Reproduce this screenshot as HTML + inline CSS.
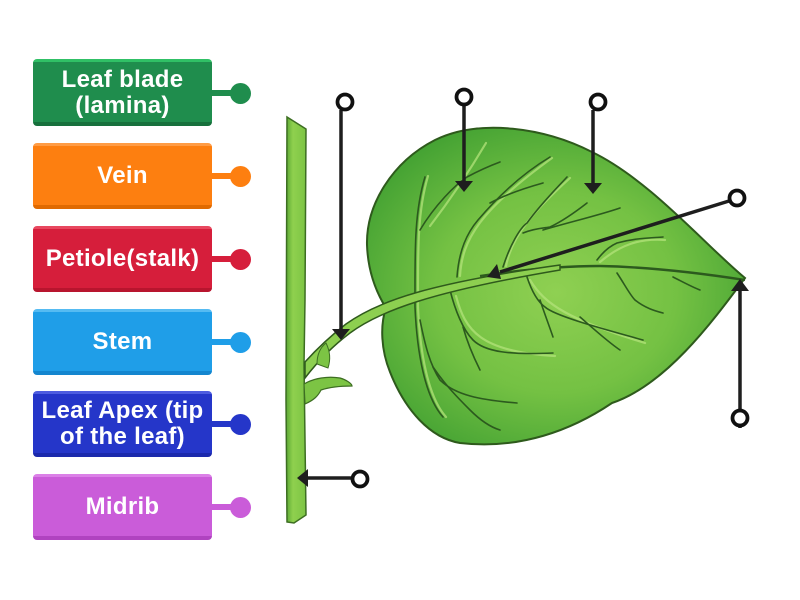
<!DOCTYPE html>
<html><head><meta charset="utf-8">
<style>
html,body{margin:0;padding:0;background:#fff;}
body{width:800px;height:600px;position:relative;overflow:hidden;font-family:"Liberation Sans",sans-serif;}
.b{position:absolute;left:33px;width:179px;border-radius:4px;color:#fff;font-weight:bold;font-size:24px;letter-spacing:0.3px;line-height:26px;display:flex;align-items:center;justify-content:center;text-align:center;box-sizing:border-box;padding-top:0px;white-space:nowrap;}
.c{position:absolute;left:211px;width:22px;height:6px;}
.d{position:absolute;left:230px;width:21px;height:21px;border-radius:50%;}
</style></head><body>
<div class="b" style="top:59px;height:67px;background:linear-gradient(#30c066 0,#30c066 3px,#1f8d4d 3px,#1f8d4d 63px,#17703c 63px);">Leaf blade<br>(lamina)</div>
<div class="c" style="top:90px;background:#1f8d4d"></div><div class="d" style="top:83px;background:#1f8d4d"></div>

<div class="b" style="top:143px;height:66px;background:linear-gradient(#ff9c45 0,#ff9c45 3px,#fd7f10 3px,#fd7f10 62px,#e06a00 62px);">Vein</div>
<div class="c" style="top:173px;background:#fd7f10"></div><div class="d" style="top:166px;background:#fd7f10"></div>

<div class="b" style="top:226px;height:66px;background:linear-gradient(#e8485f 0,#e8485f 3px,#d61e3b 3px,#d61e3b 62px,#b8152e 62px);">Petiole(stalk)</div>
<div class="c" style="top:256px;background:#d61e3b"></div><div class="d" style="top:249px;background:#d61e3b"></div>

<div class="b" style="top:309px;height:66px;background:linear-gradient(#55bbf2 0,#55bbf2 3px,#1f9ee8 3px,#1f9ee8 62px,#1486cf 62px);">Stem</div>
<div class="c" style="top:339px;background:#1f9ee8"></div><div class="d" style="top:332px;background:#1f9ee8"></div>

<div class="b" style="top:391px;height:66px;background:linear-gradient(#4d5ce0 0,#4d5ce0 3px,#2536c9 3px,#2536c9 62px,#1b29ac 62px);">Leaf Apex (tip<br>of the leaf)</div>
<div class="c" style="top:421px;background:#2536c9"></div><div class="d" style="top:414px;background:#2536c9"></div>

<div class="b" style="top:474px;height:66px;background:linear-gradient(#db80e7 0,#db80e7 3px,#ca5cd9 3px,#ca5cd9 62px,#b043c0 62px);">Midrib</div>
<div class="c" style="top:504px;background:#ca5cd9"></div><div class="d" style="top:497px;background:#ca5cd9"></div>

<svg width="800" height="600" style="position:absolute;left:0;top:0" xmlns="http://www.w3.org/2000/svg">
<defs>
<radialGradient id="lg" cx="0.5" cy="0.52" r="0.58">
<stop offset="0" stop-color="#8fd052"/>
<stop offset="0.55" stop-color="#74c143"/>
<stop offset="1" stop-color="#44a233"/>
</radialGradient>
<linearGradient id="sg" x1="0" x2="1" y1="0" y2="0">
<stop offset="0" stop-color="#5aa834"/>
<stop offset="0.35" stop-color="#8fd04e"/>
<stop offset="1" stop-color="#7cc444"/>
</linearGradient>
</defs>
<!-- stem -->
<path d="M287,117 L306,129 L305,300 L304,365 L306,515 L294,523 L287,522 L286,400 Z" fill="url(#sg)" stroke="#3d6e22" stroke-width="1.5"/>
<!-- lower bud -->
<path d="M304,384 C314,378 328,376 340,378 C347,380 352,384 352,386 C342,386 330,387 321,390 C318,396 314,400 305,404 Z" fill="#7cc444" stroke="#3d6e22" stroke-width="1.2"/>
<!-- leaf -->
<path d="M745,278 C705,245 650,180 592,152 C545,128 480,118 435,140 C392,162 366,205 367,245 C368,272 376,292 386,308 C380,325 381,350 390,372 C405,410 430,438 460,443 C520,450 572,430 612,403 C665,385 710,325 745,278 Z" fill="url(#lg)" stroke="#2e5a1c" stroke-width="2"/>
<!-- vein highlights -->
<g fill="none" stroke="#b3e37a" stroke-width="2.2" opacity="0.75" stroke-linecap="round">
<path d="M428,176 C417,213 418,253 418,307 C420,353 428,397 446,417"/>
<path d="M430,226 C450,200 470,170 486,143"/>
<path d="M460,276 C462,240 480,210 552,158"/>
<path d="M506,266 C512,235 535,210 570,178"/>
<path d="M456,296 C465,330 480,352 555,356"/>
<path d="M530,280 C545,305 570,320 645,343"/>
<path d="M600,262 C620,245 640,238 665,240"/>
</g>
<!-- veins -->
<g fill="none" stroke="#2c5a1e" stroke-width="1.6" stroke-linecap="round">
<path d="M425,177 C414,213 415,253 415,307 C417,353 425,397 443,417"/>
<path d="M420,230 C435,205 455,185 467,177 C480,170 492,165 500,162"/>
<path d="M457,277 C459,250 467,233 478,220 C495,200 520,175 550,157"/>
<path d="M490,203 C505,195 525,188 543,183"/>
<path d="M503,267 C510,245 520,228 527,223 C540,205 555,190 567,177"/>
<path d="M523,233 C535,228 545,228 550,227 C565,220 578,210 587,203"/>
<path d="M543,230 C570,222 600,215 620,208"/>
<path d="M597,260 C603,252 610,246 617,243 C635,238 650,238 663,237"/>
<path d="M450,290 C455,310 463,330 473,340 C485,352 510,355 553,353"/>
<path d="M463,327 C468,345 475,360 480,370"/>
<path d="M420,320 C425,345 430,365 440,380 C455,395 480,400 517,403"/>
<path d="M433,367 C445,385 460,400 470,410 C480,420 490,427 500,430"/>
<path d="M527,277 C532,292 538,302 545,307 C555,316 600,328 643,340"/>
<path d="M540,300 C545,315 550,328 553,337"/>
<path d="M617,273 C625,285 630,295 635,300 C645,308 655,311 663,313"/>
<path d="M673,277 C683,282 692,287 700,290"/>
<path d="M580,317 C595,330 608,342 620,350"/>
</g>
<!-- midrib on leaf -->
<path d="M480,276 C520,270 560,266 600,266 C650,267 700,273 745,280" fill="none" stroke="#2c5a1e" stroke-width="2.4"/>
<!-- petiole -->
<path d="M305,378 C315,365 330,348 350,333 C380,311 430,292 560,270 L560,265 C430,283 378,301 346,324 C328,338 314,352 305,362 Z" fill="#8dcf50" stroke="#2f5a1c" stroke-width="1.5"/>
<!-- upper bud -->
<path d="M317,364 C317,354 321,347 326,343 C330,351 331,359 328,368 Z" fill="#7cc444" stroke="#3d6e22" stroke-width="1"/>

<!-- pointers -->
<g stroke="#1e1e1e" stroke-width="3.5" fill="none">
<line x1="341" y1="110" x2="341" y2="330"/>
<line x1="464" y1="106" x2="464" y2="182"/>
<line x1="593" y1="110" x2="593" y2="184"/>
<line x1="729" y1="201" x2="500" y2="272"/>
<line x1="740" y1="288" x2="740" y2="428"/>
<line x1="351" y1="478" x2="307" y2="478"/>
</g>
<g fill="#1e1e1e">
<polygon points="332,329 350,329 341,340"/>
<polygon points="455,181 473,181 464,192"/>
<polygon points="584,183 602,183 593,194"/>
<polygon points="487,277 497,264 501,279"/>
<polygon points="731,291 749,291 740,279"/>
<polygon points="308,469 308,487 297,478"/>
</g>
<g stroke="#111" stroke-width="3.8" fill="#fff">
<circle cx="345" cy="102" r="7.5"/>
<circle cx="464" cy="97" r="7.5"/>
<circle cx="598" cy="102" r="7.5"/>
<circle cx="737" cy="198" r="7.5"/>
<circle cx="740" cy="418" r="7.5"/>
<circle cx="360" cy="479" r="7.5"/>
</g>
</svg>
</body></html>
